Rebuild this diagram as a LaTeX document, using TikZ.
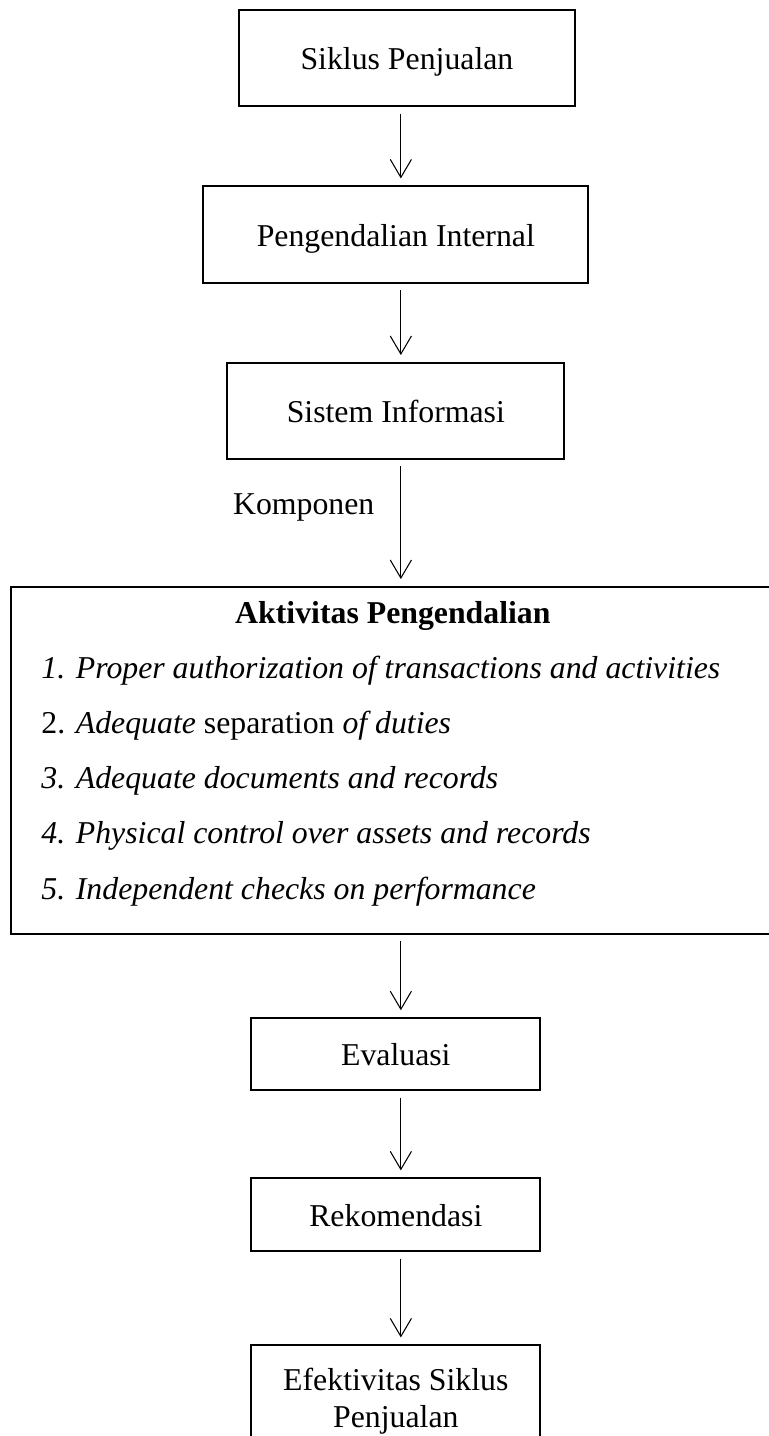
\documentclass[tikz,border=0pt]{standalone}
\usepackage{fontspec}
\setmainfont{Liberation Serif}
\usepackage{tikz}
\usetikzlibrary{arrows.meta,positioning}
\tikzstyle{box} = [rectangle, draw=black, line width=0.8pt, text=black, text centered, font=\fontsize{12}{14}\selectfont, text height=12pt, text depth=3pt]
\tikzstyle{lbl} = [inner sep=0pt, font=\fontsize{12}{14}\selectfont]
\tikzstyle{item} = [inner sep=0pt, font=\fontsize{12}{14}\selectfont\itshape]
\tikzstyle{tedge}  = [draw, line width=0.4pt, -{Straight Barb[length=6.8pt, width=8pt]}, shorten <=2.5pt, shorten >=2.5pt]

\begin{document}
\begin{tikzpicture}[auto]

\useasboundingbox (-153.6pt,21.9pt) rectangle (136.6pt,-520.1pt);

% boxes =============================

\node[box, minimum width=126.8pt, minimum height=36.2pt] (sp) at (0,0) {Siklus Penjualan};
\node[box, below=29.45pt of sp, xshift=-4.2pt, minimum width=145.3pt, minimum height=36.4pt] (pi) {Pengendalian Internal};
\node[box, below=29.45pt of pi, minimum width=127.2pt, minimum height=36.2pt] (si) {Sistem Informasi};

% aktivitas pengendalian
\node[box, below=47.55pt of si, xshift=-1.1pt, minimum width=288.3pt, minimum height=131pt] (ak) {};
\node[lbl, font=\fontsize{12}{14}\selectfont\bfseries, anchor=base] (akt) at ([yshift=-14.3pt]ak.north) {Aktivitas Pengendalian};
\node[item, anchor=base west] (a1) at ([xshift=11.7pt, yshift=-35.1pt]ak.north west) {1. Proper authorization of transactions and activities};
\node[item, anchor=base west] (a2) at ([yshift=-20.8pt]a1.base west) {\upshape 2. \textit{Adequate} separation \textit{of duties}};
\node[item, anchor=base west] (a3) at ([yshift=-20.8pt]a2.base west) {3. Adequate documents and records};
\node[item, anchor=base west] (a4) at ([yshift=-20.8pt]a3.base west) {4. Physical control over assets and records};
\node[item, anchor=base west] (a5) at ([yshift=-20.8pt]a4.base west) {5. Independent checks on performance};

% hasil
\node[box, below=30.95pt of ak, xshift=1.1pt, minimum width=109.1pt, minimum height=27.2pt] (ev) {Evaluasi};
\node[box, below=32.45pt of ev, minimum width=109.1pt, minimum height=27.5pt] (rk) {Rekomendasi};
\node[box, below=34.75pt of rk, minimum width=109.1pt, minimum height=42pt, align=center, text height=, text depth=] (ef) {Efektivitas Siklus\\Penjualan};

%edges
\coordinate (ax) at ([xshift=-2.3pt]sp.south);
\coordinate (ka) at (si.south -| ax);
\node[lbl, below left=12.8pt and 9.8pt of ka] (kp) {Komponen};

\path[tedge] (sp.south -| ax) -- (pi.north -| ax);
\path[tedge] (pi.south -| ax) -- (si.north -| ax);
\path[tedge] (ka) -- (ak.north -| ax);
\path[tedge] (ak.south -| ax) -- (ev.north -| ax);
\path[tedge] (ev.south -| ax) -- (rk.north -| ax);
\path[tedge] (rk.south -| ax) -- (ef.north -| ax);

\end{tikzpicture}
\end{document}
